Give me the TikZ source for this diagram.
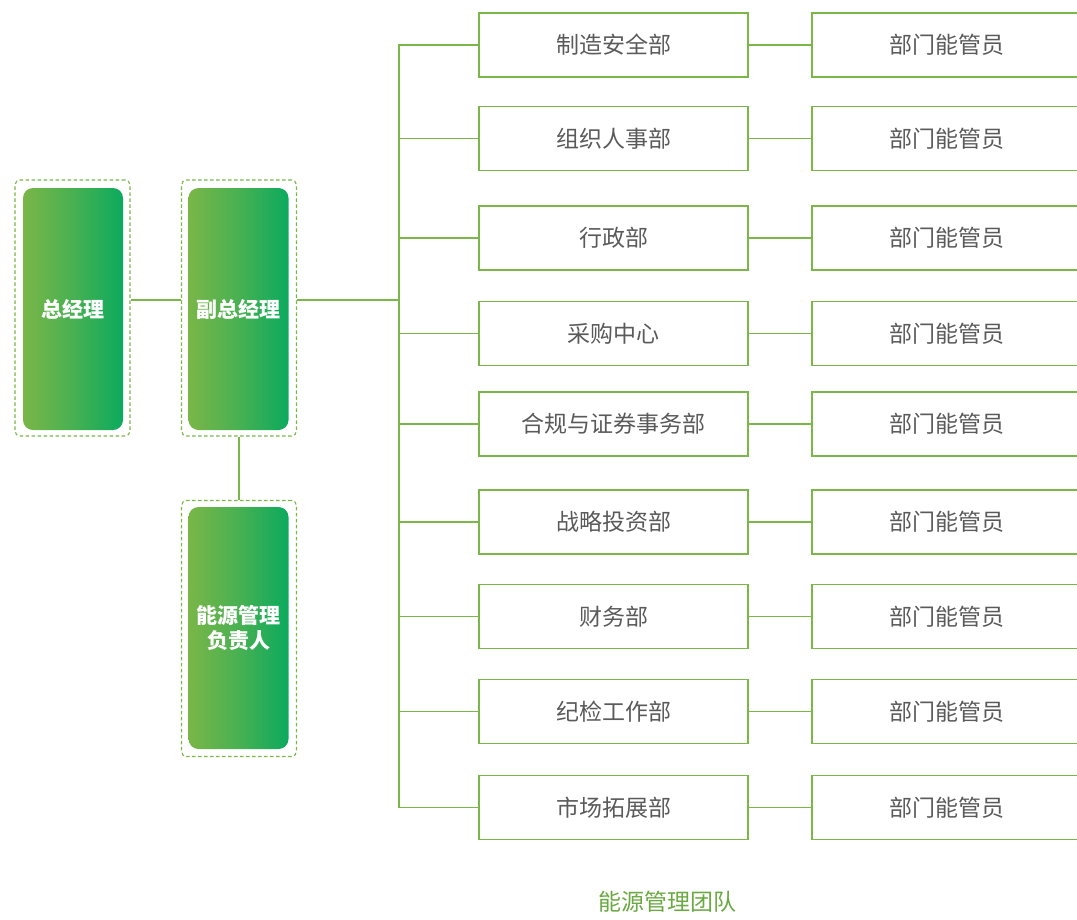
\documentclass[tikz,border=0pt]{standalone}
\usepackage{fontspec}
\setmainfont{Noto Sans CJK SC}
\usepackage{xcolor}
\usetikzlibrary{positioning}

\definecolor{lineGreen}{HTML}{7AB648}
\definecolor{leftGreen}{HTML}{7AB648}
\definecolor{rightGreen}{HTML}{0BAA5E}
\definecolor{textGray}{HTML}{5A5A5A}
\definecolor{titleGreen}{HTML}{6AA842}

\tikzset{
    leadbox/.style = {rounded corners=10pt, minimum width=100pt, minimum height=242pt,
                      left color=leftGreen, right color=rightGreen, middle color=leftGreen!55!rightGreen,
                      text=white, font=\fontsize{21}{25}\selectfont\bfseries, align=center, inner sep=0pt},
    leadframe/.style = {draw=lineGreen, dash pattern=on 3.5pt off 2.5pt, line width=1.1pt, rounded corners=5pt,
                        minimum width=115pt, minimum height=256pt},
    deptbox/.style = {draw=lineGreen, line width=1.3pt, minimum width=269pt, minimum height=64pt,
                      text=textGray, font=\fontsize{23}{27}\selectfont},
    link/.style = {draw=lineGreen, line width=1.3pt}
}

\begin{document}
\begin{tikzpicture}[x=1pt, y=-1pt]
        \useasboundingbox (0,0) rectangle (1077,919);

        % leaders
        \node[leadframe] (gmF) at (72.5, 308)  {};
        \node[leadbox]   (gm)  at (73, 309)    {总经理};
        \node[leadframe] (vpF) at (239, 308)   {};
        \node[leadbox]   (vp)  at (238.5, 309) {副总经理};
        \node[leadframe] (emF) at (239, 628.5) {};
        \node[leadbox]   (em)  at (238.5, 628) {能源管理\\负责人};

        % departments
        \node[deptbox] (d1) at (613.5, 45)    {制造安全部};
        \node[deptbox] (d2) at (613.5, 138.5) {组织人事部};
        \node[deptbox] (d3) at (613.5, 238)   {行政部};
        \node[deptbox] (d4) at (613.5, 333.5) {采购中心};
        \node[deptbox] (d5) at (613.5, 424)   {合规与证券事务部};
        \node[deptbox] (d6) at (613.5, 522)   {战略投资部};
        \node[deptbox] (d7) at (613.5, 616.5) {财务部};
        \node[deptbox] (d8) at (613.5, 711.5) {纪检工作部};
        \node[deptbox] (d9) at (613.5, 807.5) {市场拓展部};

        % staff
        \node[deptbox] (s1) at (946.5, 45)    {部门能管员};
        \node[deptbox] (s2) at (946.5, 138.5) {部门能管员};
        \node[deptbox] (s3) at (946.5, 238)   {部门能管员};
        \node[deptbox] (s4) at (946.5, 333.5) {部门能管员};
        \node[deptbox] (s5) at (946.5, 424)   {部门能管员};
        \node[deptbox] (s6) at (946.5, 522)   {部门能管员};
        \node[deptbox] (s7) at (946.5, 616.5) {部门能管员};
        \node[deptbox] (s8) at (946.5, 711.5) {部门能管员};
        \node[deptbox] (s9) at (946.5, 807.5) {部门能管员};

        \node[text=titleGreen, font=\fontsize{23}{27}\selectfont] (team) at (667, 902) {能源管理团队};

        \coordinate (trunk) at (399, 300);

        \path[link] (gmF.east |- trunk) -- (vpF.west |- trunk);
        \path[link] (vpF.east |- trunk) -- (trunk);
        \path[link] (vpF) -- (emF);

        \path[link] (d1.west) -| (trunk);
        \path[link] (d2.west) -| (trunk);
        \path[link] (d3.west) -| (trunk);
        \path[link] (d4.west) -| (trunk);
        \path[link] (d5.west) -| (trunk);
        \path[link] (d6.west) -| (trunk);
        \path[link] (d7.west) -| (trunk);
        \path[link] (d8.west) -| (trunk);
        \path[link] (d9.west) -| (trunk);

        \path[link] (d1) -- (s1);
        \path[link] (d2) -- (s2);
        \path[link] (d3) -- (s3);
        \path[link] (d4) -- (s4);
        \path[link] (d5) -- (s5);
        \path[link] (d6) -- (s6);
        \path[link] (d7) -- (s7);
        \path[link] (d8) -- (s8);
        \path[link] (d9) -- (s9);
    \end{tikzpicture}
\end{document}
